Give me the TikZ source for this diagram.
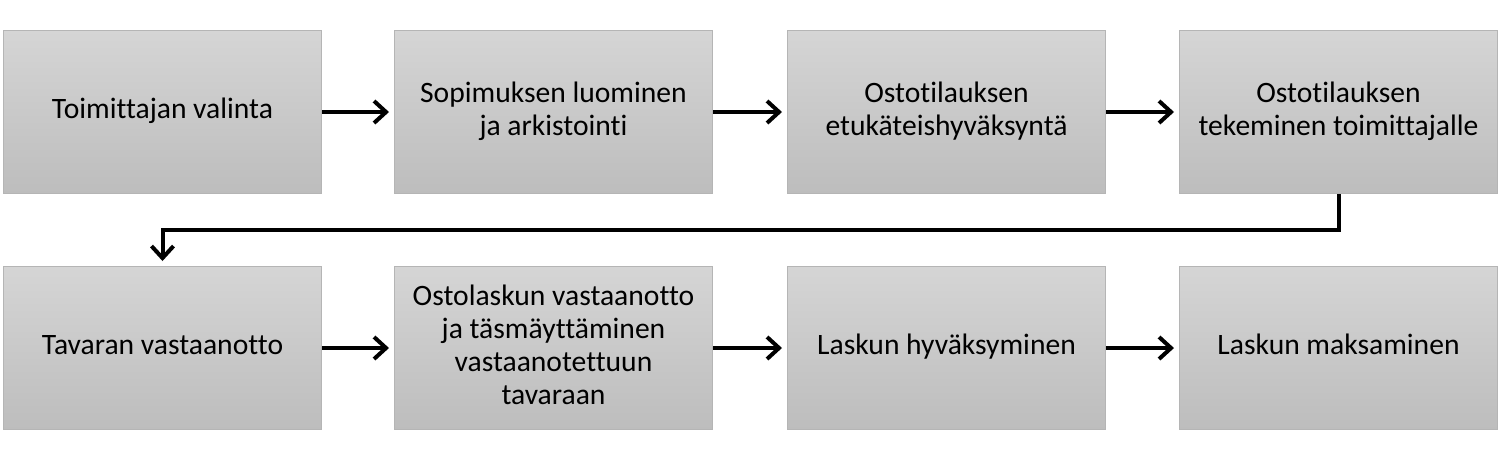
\documentclass[tikz,border=0pt]{standalone}
\usepackage{fontspec}
\setmainfont[Ligatures=NoCommon]{Carlito}
\usetikzlibrary{arrows.meta}
\definecolor{gtop}{HTML}{D5D5D5}
\definecolor{gbot}{HTML}{BDBDBD}
\definecolor{boxborder}{HTML}{B5B5B5}
\newcommand{\bt}[1]{\strut#1\strut}
\begin{document}
\begin{tikzpicture}[x=0.5pt,y=-0.5pt,
  box/.style={draw=boxborder, line width=0.5pt, top color=gtop, bottom color=gbot,
    minimum width=159pt, minimum height=81.5pt, inner sep=0pt, align=center,
    font=\fontsize{14.8}{16.5}\selectfont, anchor=north west},
  arr/.style={line width=2pt, shorten >=2.5pt,
    -{Straight Barb[length=6pt,width=11pt,line width=2pt]}}]
\useasboundingbox (0,0) rectangle (1500,452);
\node[box] (b1) at (3,30) {\bt{Toimittajan valinta}};
\node[box] (b2) at (394,30) {\bt{Sopimuksen luominen\\ja arkistointi}};
\node[box] (b3) at (787,30) {\bt{Ostotilauksen\\etukäteishyväksyntä}};
\node[box] (b4) at (1179,30) {\bt{Ostotilauksen\\tekeminen toimittajalle}};
\node[box] (b5) at (3,266) {\bt{Tavaran vastaanotto}};
\node[box] (b6) at (394,266) {\bt{Ostolaskun vastaanotto\\ja täsmäyttäminen\\vastaanotettuun\\tavaraan}};
\node[box] (b7) at (787,266) {\bt{Laskun hyväksyminen}};
\node[box] (b8) at (1179,266) {\bt{Laskun maksaminen}};
\draw[arr] (b1) -- (b2);
\draw[arr] (b2) -- (b3);
\draw[arr] (b3) -- (b4);
\draw[arr] (b5) -- (b6);
\draw[arr] (b6) -- (b7);
\draw[arr] (b7) -- (b8);
\draw[arr] (b4.south) -- ++(0,36) -| (b5.north);
\end{tikzpicture}
\end{document}
